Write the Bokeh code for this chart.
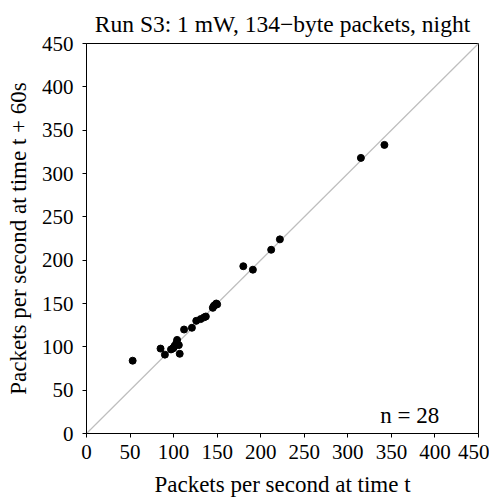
from bokeh.plotting import figure
from bokeh.models import Range1d, FixedTicker, Label
from bokeh.embed import file_html
from bokeh.resources import INLINE

# data: packets per second at time t vs at t + 60s
rate_t = [53, 85, 90, 97, 99, 100, 101, 103, 104, 106, 107, 112, 121, 126, 131, 135, 137,
          145, 146, 147, 149, 150, 180, 191, 212, 222, 315, 342]
rate_t60 = [84, 98, 91, 97, 98, 99, 101, 104, 108, 102, 92, 120, 122, 130, 132, 134, 135,
            145, 147, 148, 150, 149, 193, 189, 212, 224, 318, 333]
diag = [0, 450]
ticks = [0, 50, 100, 150, 200, 250, 300, 350, 400, 450]
n_label = "n = 28"

FONT = "Liberation Serif"
FS = "23px"
FS_TITLE = "23.5px"
FS_TICK = "21px"

p = figure(width=489, height=499, output_backend="svg", toolbar_location=None,
           x_range=Range1d(0, 450), y_range=Range1d(0, 450),
           min_border_left=86, min_border_right=11, min_border_top=43, min_border_bottom=66,
           title="Run S3: 1 mW, 134\u2212byte packets, night")

p.title.text_font = FONT
p.title.text_font_size = FS_TITLE
p.title.text_font_style = "normal"
p.title.align = "center"
p.title.text_color = "black"
p.title.standoff = 14

p.xgrid.visible = False
p.ygrid.visible = False
p.outline_line_color = "black"
p.outline_line_width = 1
p.outline_line_alpha = 1

for ax in (p.xaxis[0], p.yaxis[0]):
    ax.ticker = FixedTicker(ticks=ticks)
    ax.minor_tick_line_color = None
    ax.major_tick_in = 0
    ax.major_tick_out = 4
    ax.major_tick_line_color = "black"
    ax.axis_line_color = "black"
    ax.major_label_text_font = FONT
    ax.major_label_text_font_size = FS_TICK
    ax.major_label_text_color = "black"
    ax.axis_label_text_font = FONT
    ax.axis_label_text_font_size = FS
    ax.axis_label_text_font_style = "normal"
    ax.axis_label_text_color = "black"

p.xaxis.axis_label = "Packets per second at time t"
p.yaxis.axis_label = "Packets per second at time t + 60s"
p.xaxis.major_label_standoff = 7
p.yaxis.major_label_standoff = 9
p.xaxis.axis_label_standoff = 10
p.yaxis.axis_label_standoff = 8

p.line(diag, diag, line_color="#BEBEBE", line_width=1.2)
p.scatter(rate_t, rate_t60, size=7, fill_color="black", line_color="black")

p.add_layout(Label(x=405, y=21, text=n_label, text_align="right", text_baseline="middle",
                   text_font=FONT, text_font_size=FS, text_color="black"))

open("out.html", "w").write(file_html(p, INLINE))
